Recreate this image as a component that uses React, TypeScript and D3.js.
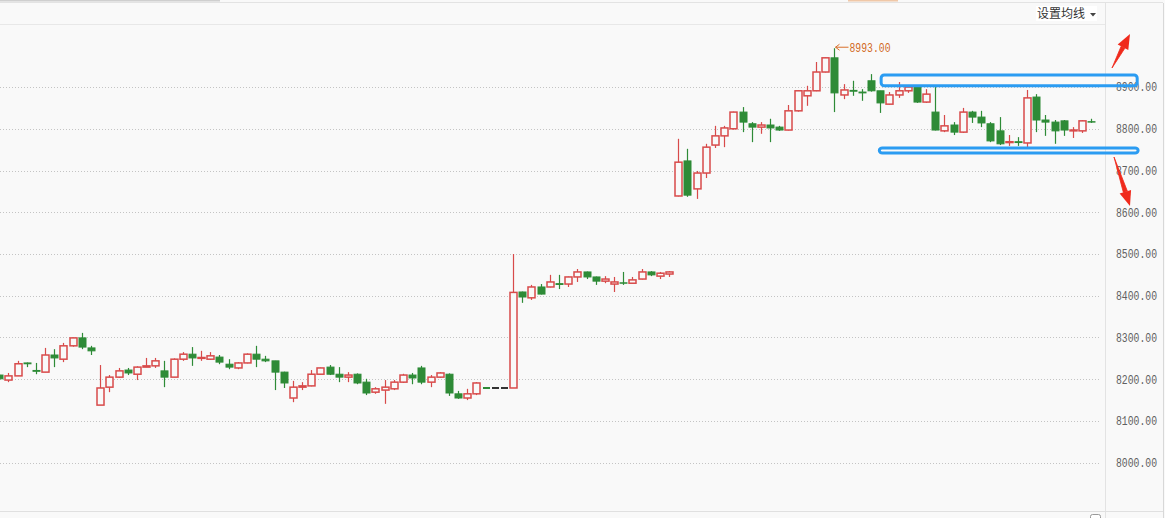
import React, { useEffect, useRef } from 'react'
import * as d3 from 'd3'

// daily K line, red = up (hollow), green = down (filled)
const opens = [
  8210, 8198, 8208, 8239, 8221, 8217, 8258, 8248, 8280, 8299,
  8275, 8138, 8181, 8205, 8222, 8212, 8229, 8232, 8220, 8205,
  8248, 8260, 8250, 8248, 8253, 8236, 8227, 8239, 8260, 8248,
  8244, 8217, 8155, 8181, 8184, 8212, 8229, 8212, 8205, 8212,
  8193, 8169, 8174, 8177, 8193, 8210, 8227, 8193, 8205, 8212,
  8165, 8155, 8165, 8179, 8179, 8179, 8179, 8409, 8395, 8421,
  8421, 8429, 8428, 8445, 8457, 8445, 8435, 8428, 8431, 8430,
  8440, 8457, 8447, 8452, 8639, 8723, 8656, 8694, 8761, 8783,
  8800, 8840, 8812, 8804, 8809, 8804, 8797, 8843, 8879, 8891,
  8936, 8970, 8881, 8892, 8888, 8915, 8891, 8859, 8881, 8891,
  8900, 8864, 8840, 8795, 8809, 8792, 8840, 8828, 8812, 8795,
  8767, 8769, 8766, 8876, 8821, 8816, 8819, 8795, 8795, 8817
]
const closes = [
  8201, 8208, 8237, 8237, 8219, 8258, 8251, 8280, 8299, 8277,
  8268, 8179, 8205, 8220, 8215, 8229, 8232, 8244, 8205, 8248,
  8260, 8251, 8252, 8256, 8241, 8229, 8239, 8260, 8248, 8244,
  8217, 8191, 8181, 8184, 8212, 8227, 8212, 8205, 8210, 8191,
  8167, 8177, 8181, 8193, 8210, 8203, 8193, 8205, 8215, 8167,
  8155, 8165, 8191, 8179, 8179, 8179, 8408, 8397, 8421, 8404,
  8433, 8427, 8445, 8457, 8445, 8435, 8440, 8433, 8430, 8438,
  8457, 8450, 8454, 8457, 8720, 8641, 8694, 8756, 8783, 8802,
  8840, 8816, 8804, 8809, 8802, 8797, 8843, 8891, 8891, 8936,
  8970, 8886, 8893, 8890, 8886, 8891, 8862, 8881, 8891, 8900,
  8864, 8883, 8797, 8807, 8792, 8840, 8828, 8814, 8771, 8764,
  8769, 8767, 8874, 8821, 8816, 8795, 8797, 8797, 8819, 8816
]
const highs = [
  8212, 8215, 8244, 8240, 8239, 8275, 8272, 8287, 8300, 8311,
  8280, 8234, 8210, 8227, 8227, 8231, 8251, 8251, 8244, 8250,
  8265, 8277, 8268, 8265, 8258, 8248, 8241, 8262, 8280, 8256,
  8244, 8218, 8196, 8193, 8222, 8228, 8234, 8229, 8217, 8214,
  8201, 8181, 8198, 8198, 8213, 8215, 8232, 8210, 8217, 8214,
  8172, 8177, 8193, 8179, 8179, 8179, 8500, 8410, 8426, 8428,
  8450, 8450, 8446, 8464, 8458, 8446, 8447, 8445, 8457, 8445,
  8464, 8459, 8457, 8459, 8776, 8752, 8699, 8764, 8807, 8807,
  8841, 8852, 8816, 8816, 8824, 8807, 8857, 8892, 8903, 8960,
  8971, 8993, 8907, 8915, 8895, 8931, 8891, 8888, 8912, 8905,
  8901, 8895, 8900, 8833, 8816, 8850, 8843, 8843, 8816, 8828,
  8785, 8780, 8893, 8883, 8833, 8821, 8821, 8804, 8821, 8824
]
const lows = [
  8199, 8193, 8208, 8229, 8212, 8217, 8229, 8241, 8278, 8272,
  8258, 8138, 8169, 8203, 8210, 8198, 8229, 8227, 8181, 8205,
  8244, 8232, 8244, 8246, 8236, 8224, 8224, 8238, 8229, 8241,
  8174, 8179, 8145, 8174, 8183, 8211, 8210, 8193, 8193, 8188,
  8162, 8165, 8141, 8174, 8191, 8188, 8188, 8181, 8203, 8160,
  8153, 8150, 8162, 8179, 8179, 8179, 8179, 8383, 8390, 8403,
  8420, 8416, 8421, 8433, 8440, 8426, 8430, 8409, 8426, 8430,
  8439, 8447, 8440, 8445, 8638, 8637, 8632, 8682, 8754, 8756,
  8798, 8792, 8768, 8788, 8768, 8795, 8796, 8841, 8855, 8890,
  8935, 8840, 8871, 8879, 8867, 8889, 8838, 8858, 8874, 8886,
  8862, 8862, 8796, 8792, 8785, 8790, 8814, 8804, 8768, 8761,
  8759, 8759, 8756, 8792, 8783, 8764, 8783, 8778, 8790, 8814
]
const yTicks = [8000, 8100, 8200, 8300, 8400, 8500, 8600, 8700, 8800, 8900]

// hand drawn marks on the screenshot (price / bar index)
const boxes = [
  { from: 96.1, to: 124, top: 8929, bottom: 8903 },
  { from: 95.9, to: 124.1, top: 8754, bottom: 8742 }
]

const RED = '#d84a4a'
const GREEN = '#2e8b37'
const W = 1165
const H = 518

function App() {
  const ref = useRef(null)

  useEffect(() => {
    document.body.style.margin = '0'
    const svg = d3.select(ref.current)
    svg.selectAll('*').remove()

    const data = opens.map((o, i) => ({ i, o, c: closes[i], h: highs[i], l: lows[i] }))
    const x = d3.scaleLinear().domain([0, data.length - 1]).range([-0.8, 1091.3])
    const y = d3.scaleLinear().domain([8000, 8500]).range([462.7, 254])
    const fmt = d3.format('.2f')

    svg.append('rect').attr('width', W).attr('height', H).attr('fill', '#f9f9f9')

    // frame
    svg.append('rect').attr('x', 0).attr('y', 0).attr('width', 220).attr('height', 1.5).attr('fill', '#cfcfcf')
    svg.append('rect').attr('x', 848).attr('y', 0).attr('width', 50).attr('height', 1.5).attr('fill', '#f0c8a8')
    svg.append('line').attr('x1', 0).attr('x2', 1163).attr('y1', 2.5).attr('y2', 2.5).attr('stroke', '#e3e3e3')
    svg.append('line').attr('x1', 0).attr('x2', 1105).attr('y1', 24.5).attr('y2', 24.5).attr('stroke', '#e8e8e8')
    svg.append('line').attr('x1', 1105.5).attr('x2', 1105.5).attr('y1', 3).attr('y2', H).attr('stroke', '#e3e3e3')
    svg.append('line').attr('x1', 1163.5).attr('x2', 1163.5).attr('y1', 3).attr('y2', H).attr('stroke', '#d8d8d8')
    svg.append('line').attr('x1', 0).attr('x2', 1163).attr('y1', 511.5).attr('y2', 511.5).attr('stroke', '#e0e0e0')

    // grid + labels
    const grid = svg.append('g')
    grid.selectAll('line').data(yTicks).join('line')
      .attr('x1', 0).attr('x2', 1100)
      .attr('y1', d => Math.round(y(d)) + 0.5).attr('y2', d => Math.round(y(d)) + 0.5)
      .attr('stroke', '#c4c4c4').attr('stroke-dasharray', '1,2')
    grid.selectAll('text').data(yTicks).join('text')
      .attr('x', 1116).attr('y', d => y(d)).attr('dy', '0.36em')
      .attr('textLength', 41).attr('lengthAdjust', 'spacingAndGlyphs')
      .attr('font-family', 'Liberation Mono, DejaVu Sans Mono, monospace')
      .attr('font-size', 12).attr('fill', '#606060')
      .text(d => fmt(d))

    // header
    svg.append('rect').attr('x', 1036).attr('y', 6).attr('width', 61).attr('height', 15).attr('fill', '#fff')
    svg.append('text').attr('x', 1037).attr('y', 18)
      .attr('font-family', 'Noto Sans CJK SC, sans-serif').attr('font-size', 12).attr('fill', '#333')
      .text('设置均线')
    svg.append('path').attr('d', 'M1090,13 L1096,13 L1093,16.5 Z').attr('fill', '#444')

    // candles
    const colorOf = d => {
      if (d.c > d.o) return RED
      if (d.c < d.o) return GREEN
      const prev = d.i > 0 ? closes[d.i - 1] : d.c
      return d.c > prev ? RED : d.c < prev ? GREEN : '#333'
    }
    const bw = 7
    const cx = d => Math.round(x(d.i)) + 0.5
    const g = svg.append('g')
    const k = g.selectAll('g').data(data).join('g').attr('stroke', colorOf).attr('fill', colorOf)
    const moving = k.filter(d => d.h !== d.l)
    moving.append('line')
      .attr('x1', cx).attr('x2', cx)
      .attr('y1', d => y(d.h)).attr('y2', d => y(d.l))
      .attr('stroke-width', 1.2)
    moving.append('rect')
      .attr('x', d => cx(d) - bw / 2)
      .attr('width', bw)
      .attr('y', d => y(Math.max(d.o, d.c)))
      .attr('height', d => Math.max(0.01, y(Math.min(d.o, d.c)) - y(Math.max(d.o, d.c))))
      .attr('fill', d => d.c > d.o ? '#f9f9f9' : colorOf(d))
      .attr('stroke-width', d => d.c > d.o ? 1.5 : 1)
      .filter(d => d.c === d.o)
      .attr('stroke-width', 2)
    // one price days: a plain dash
    k.filter(d => d.h === d.l).append('line')
      .attr('x1', d => cx(d) - bw / 2).attr('x2', d => cx(d) + bw / 2)
      .attr('y1', d => y(d.c)).attr('y2', d => y(d.c))
      .attr('stroke-width', 2)

    // max marker
    const top = d3.maxIndex(highs)
    const mx = Math.round(x(top)) + 1.5
    const my = y(highs[top]) - 1
    const ann = svg.append('g').attr('stroke', '#d8702a').attr('fill', 'none')
    ann.append('path').attr('d', `M${mx},${my} L${mx + 13},${my}`)
    ann.append('path').attr('d', `M${mx + 4},${my - 3} L${mx},${my} L${mx + 4},${my + 3}`)
    svg.append('text').attr('x', mx + 14).attr('y', my).attr('dy', '0.36em')
      .attr('textLength', 41).attr('lengthAdjust', 'spacingAndGlyphs')
      .attr('font-family', 'Liberation Mono, DejaVu Sans Mono, monospace')
      .attr('font-size', 12).attr('fill', '#d2691e')
      .text(fmt(highs[top]))

    // blue boxes
    svg.append('g').selectAll('rect').data(boxes).join('rect')
      .attr('x', d => x(d.from)).attr('width', d => x(d.to) - x(d.from))
      .attr('y', d => y(d.top)).attr('height', d => y(d.bottom) - y(d.top))
      .attr('rx', 3).attr('fill', 'none')
      .attr('stroke', '#2b9cf2').attr('stroke-width', 3)

    // red arrows
    const arrow = (x1, y1, x2, y2) => {
      const a = Math.atan2(y2 - y1, x2 - x1)
      const len = 15, wid = 6
      const bx = x2 - len * Math.cos(a), by = y2 - len * Math.sin(a)
      const nx = -Math.sin(a) * wid, ny = Math.cos(a) * wid
      svg.append('path')
        .attr('d', `M${x1},${y1} L${bx + nx * 0.35},${by + ny * 0.35} L${bx - nx * 0.35},${by - ny * 0.35} Z`)
        .attr('fill', '#f02a1c').attr('stroke', '#f02a1c').attr('stroke-width', 0.8)
      svg.append('path')
        .attr('d', `M${x2},${y2} L${bx + nx},${by + ny} L${bx - nx},${by - ny} Z`)
        .attr('fill', '#f02a1c')
    }
    arrow(1112, 68, 1130, 34)
    arrow(1114, 157, 1130, 206)

    // tiny marks of the cut-off strip under the chart
    svg.append('rect').attr('x', 1090.5).attr('y', 514.5).attr('width', 10).attr('height', 8)
      .attr('rx', 2).attr('fill', '#fff').attr('stroke', '#999')
  }, [])

  return <svg ref={ref} width={W} height={H} style={{ display: 'block' }} />
}

export default App
